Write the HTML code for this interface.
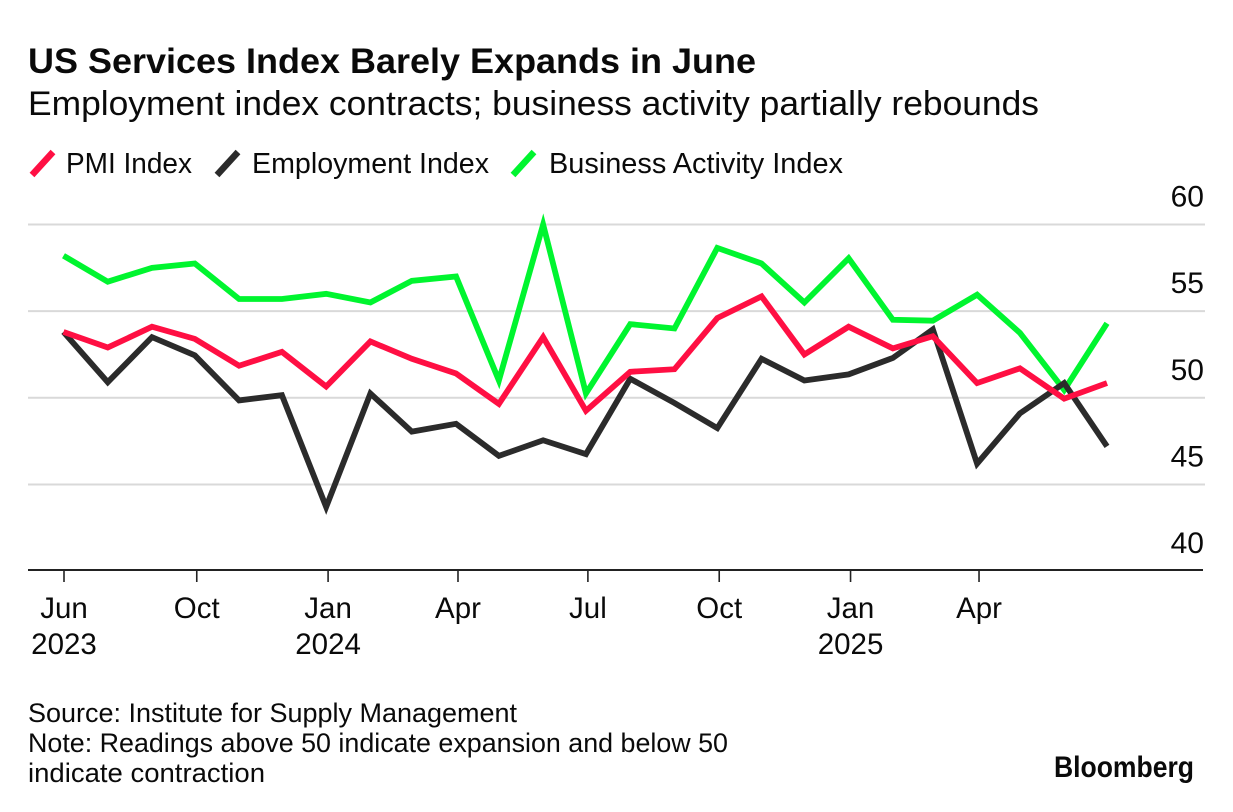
<!DOCTYPE html>
<html lang="en">
<head>
<meta charset="utf-8">
<title>US Services Index Barely Expands in June</title>
<style>
html,body{margin:0;padding:0;background:#fff;}
#chart{display:block;width:1233px;height:812px;font-family:"Liberation Sans",Arial,sans-serif;fill:#0a0a0a;}
</style>
</head>
<body>
<svg id="chart" xmlns="http://www.w3.org/2000/svg" width="1233" height="812" viewBox="0 0 1233 812">
  <text x="28" y="73" font-size="35.5" font-weight="700" textLength="728" lengthAdjust="spacingAndGlyphs">US Services Index Barely Expands in June</text>
  <text x="28" y="115" font-size="34.5" textLength="1011" lengthAdjust="spacingAndGlyphs">Employment index contracts; business activity partially rebounds</text>

  <g>
    <line x1="32" y1="175" x2="53" y2="152" stroke="#ff0f43" stroke-width="6.5"/>
    <text x="66" y="173" font-size="29" textLength="126" lengthAdjust="spacingAndGlyphs">PMI Index</text>
    <line x1="217" y1="175" x2="238" y2="152" stroke="#2b2b2b" stroke-width="6.5"/>
    <text x="252" y="173" font-size="29" textLength="237" lengthAdjust="spacingAndGlyphs">Employment Index</text>
    <line x1="513" y1="175" x2="534" y2="152" stroke="#00f52f" stroke-width="6.5"/>
    <text x="549" y="173" font-size="29" textLength="294" lengthAdjust="spacingAndGlyphs">Business Activity Index</text>
  </g>

  <g id="grid"></g>
  <g id="yaxis"></g>
  <line x1="28" y1="570" x2="1203" y2="570" stroke="#222" stroke-width="2"/>
  <g id="xaxis"></g>
  <g id="series"></g>

  <text x="28" y="722" font-size="27" textLength="489" lengthAdjust="spacingAndGlyphs">Source: Institute for Supply Management</text>
  <text x="28" y="752" font-size="27" textLength="700" lengthAdjust="spacingAndGlyphs">Note: Readings above 50 indicate expansion and below 50</text>
  <text x="28" y="782" font-size="27" textLength="237" lengthAdjust="spacingAndGlyphs">indicate contraction</text>
  <text x="1054" y="777" font-size="30" font-weight="700" textLength="140" lengthAdjust="spacingAndGlyphs">Bloomberg</text>
</svg>
<script>
const dates = ["2023-06-30","2023-07-31","2023-08-31","2023-09-30","2023-10-31","2023-11-30","2023-12-31","2024-01-31","2024-02-29","2024-03-31","2024-04-30","2024-05-31","2024-06-30","2024-07-31","2024-08-31","2024-09-30","2024-10-31","2024-11-30","2024-12-31","2025-01-31","2025-02-28","2025-03-31","2025-04-30","2025-05-31","2025-06-30"];
const businessActivity = [58.2,56.7,57.5,57.75,55.7,55.7,56.0,55.5,56.75,57.0,51.0,60.0,50.25,54.25,54.0,58.65,57.75,55.5,58.05,54.5,54.45,55.95,53.75,50.45,54.3];
const pmiIndex = [53.8,52.9,54.1,53.4,51.85,52.65,50.65,53.25,52.25,51.4,49.65,53.5,49.25,51.5,51.65,54.6,55.85,52.5,54.1,52.85,53.55,50.85,51.7,49.95,50.85];
const employmentIndex = [53.8,50.9,53.5,52.45,49.85,50.15,43.7,50.25,48.05,48.5,46.65,47.55,46.75,51.1,49.7,48.25,52.25,51.0,51.35,52.3,53.95,46.2,49.1,50.85,47.2];
const yTicks = [60,55,50,45,40];
const gridValues = [60,55,50,45];
const xTickDates = ["2023-06-30","2023-10-01","2024-01-01","2024-04-01","2024-07-01","2024-10-01","2025-01-01","2025-04-01"];
const xTickMonths = ["Jun","Oct","Jan","Apr","Jul","Oct","Jan","Apr"];
const xTickYears = ["2023","","2024","","","","2025",""];

const NS = "http://www.w3.org/2000/svg";
const t0 = Date.parse(dates[0]);
const t1 = Date.parse(dates[dates.length - 1]);
function x(d){ return 63.5 + (Date.parse(d) - t0) / (t1 - t0) * (1107 - 63.5); }
function y(v){ return 224.5 + (60 - v) * 17.33; }
function make(tag, attrs){
  const el = document.createElementNS(NS, tag);
  for (const k in attrs) el.setAttribute(k, attrs[k]);
  return el;
}

const gridG = document.getElementById("grid");
gridValues.forEach(function(v){
  const l = make("line", {x1:28, x2:1205, y1:y(v), y2:y(v), stroke:"#d9d9d9", "stroke-width":2});
  
  
  gridG.appendChild(l);
});

const yG = document.getElementById("yaxis");
yTicks.forEach(function(v){
  const t = make("text", {x:1204, y:y(v) - 18, "text-anchor":"end", "font-size":30});
  
  
  t.textContent = v;
  yG.appendChild(t);
});

const xG = document.getElementById("xaxis");
xTickDates.forEach(function(d, i){
  const px = x(d) + 0.5;
  const tick = make("line", {x1:px, x2:px, y1:570, y2:582, stroke:"#222", "stroke-width":1.6});
  
  
  xG.appendChild(tick);
  const m = make("text", {x:px, y:618, "text-anchor":"middle", "font-size":29.5});
  
  
  m.textContent = xTickMonths[i];
  xG.appendChild(m);
  if (xTickYears[i]) {
    const yr = make("text", {x:px, y:654, "text-anchor":"middle", "font-size":29.5});
    
    
    yr.textContent = xTickYears[i];
    xG.appendChild(yr);
  }
});

function pathOf(values){
  return values.map(function(v, i){
    return (i ? "L" : "M") + x(dates[i]).toFixed(2) + " " + y(v).toFixed(2);
  }).join(" ");
}
const seriesG = document.getElementById("series");

const greenLine = make("path", {d:pathOf(businessActivity), fill:"none", stroke:"#00f52f", "stroke-width":5.8, "stroke-linejoin":"miter", "stroke-miterlimit":10});


seriesG.appendChild(greenLine);

const blackLine = make("path", {d:pathOf(employmentIndex), fill:"none", stroke:"#2b2b2b", "stroke-width":5.8, "stroke-linejoin":"miter", "stroke-miterlimit":10});


seriesG.appendChild(blackLine);

const redLine = make("path", {d:pathOf(pmiIndex), fill:"none", stroke:"#ff0f43", "stroke-width":5.8, "stroke-linejoin":"miter", "stroke-miterlimit":10});


seriesG.appendChild(redLine);
</script>
</body>
</html>
